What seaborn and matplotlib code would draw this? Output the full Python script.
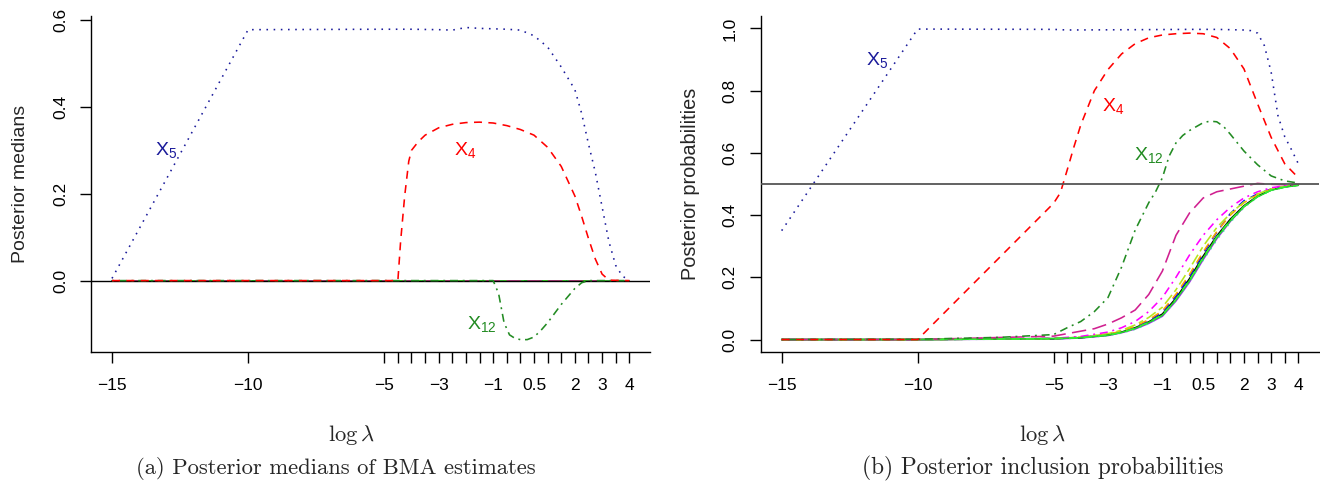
import numpy as np
import pandas as pd
import matplotlib
matplotlib.use("Agg")
import matplotlib.pyplot as plt
import seaborn as sns

# ---------------- data ----------------
# Panel (a): posterior medians
a_x5_x = [-15, -10, -5, -4, -3, -2.5, -2, -1.5, -1, -0.5, 0, 0.5, 1, 1.5, 2, 2.25, 2.5, 2.75, 3, 3.25, 3.5, 3.75, 4]
a_x5_y = [0.005, 0.578, 0.579, 0.579, 0.578, 0.577, 0.583, 0.581, 0.580, 0.579, 0.577, 0.564, 0.538, 0.492, 0.440, 0.385, 0.315, 0.250, 0.170, 0.090, 0.035, 0.010, 0.001]

a_x4_x = [-15, -5, -4.5, -4.4, -4.25, -4.1, -4, -3.75, -3.5, -3, -2.5, -2, -1.5, -1, -0.5, 0, 0.5, 1, 1.5, 2, 2.25, 2.5, 2.75, 3, 3.25, 4]
a_x4_y = [0, 0, 0, 0.090, 0.195, 0.275, 0.300, 0.320, 0.335, 0.352, 0.360, 0.364, 0.365, 0.363, 0.357, 0.348, 0.335, 0.307, 0.263, 0.195, 0.148, 0.097, 0.050, 0.015, 0.001, 0]

a_x12_x = [-15, -1.1, -1, -0.8, -0.6, -0.4, -0.2, 0, 0.25, 0.5, 0.75, 1, 1.5, 2, 2.25, 2.5, 4]
a_x12_y = [0, 0, 0, -0.030, -0.097, -0.125, -0.133, -0.136, -0.136, -0.130, -0.115, -0.097, -0.055, -0.018, -0.005, 0, 0]

# Panel (b): posterior inclusion probabilities
b_x5_x = [-15, -10, -5, -4.5, -2, 0, 1, 2, 2.25, 2.5, 2.75, 3, 3.25, 3.5, 3.75, 4]
b_x5_y = [0.350, 0.998, 0.997, 0.995, 0.996, 0.997, 0.997, 0.995, 0.993, 0.985, 0.945, 0.860, 0.720, 0.652, 0.610, 0.565]

b_x4_x = [-15, -10, -5, -4.75, -4.5, -4.25, -4, -3.75, -3.5, -3, -2.5, -2, -1.5, -1, -0.5, 0, 0.5, 1, 1.5, 2, 2.5, 3, 3.5, 4]
b_x4_y = [0, 0, 0.438, 0.472, 0.545, 0.620, 0.690, 0.745, 0.800, 0.868, 0.918, 0.951, 0.970, 0.979, 0.983, 0.985, 0.983, 0.971, 0.935, 0.870, 0.758, 0.650, 0.565, 0.520]

b_x12_x = [-15, -10, -7, -5, -4.5, -4, -3.5, -3, -2.5, -2, -1.5, -1.25, -1, -0.75, -0.5, -0.25, 0, 0.5, 0.75, 1, 1.25, 1.5, 2, 2.5, 3, 3.5, 4]
b_x12_y = [0, 0.001, 0.007, 0.016, 0.038, 0.058, 0.090, 0.135, 0.233, 0.352, 0.440, 0.475, 0.520, 0.590, 0.632, 0.656, 0.672, 0.697, 0.702, 0.700, 0.685, 0.660, 0.606, 0.562, 0.526, 0.510, 0.503]

b_vr_x = [-15, -10, -5, -3.5, -3, -2.5, -2, -1.5, -1, -0.5, 0, 0.5, 1, 2, 2.5, 3, 4]
b_vr_y = [0, 0, 0.011, 0.035, 0.050, 0.070, 0.095, 0.145, 0.220, 0.335, 0.407, 0.455, 0.475, 0.493, 0.502, 0.499, 0.496]

bundle_x = [-15, -10, -5, -4, -3, -2.5, -2, -1.5, -1, -0.5, 0, 0.5, 1, 1.5, 2, 2.5, 3, 3.5, 4]
b_green = [0, 0, 0.003, 0.006, 0.014, 0.023, 0.036, 0.055, 0.078, 0.128, 0.190, 0.262, 0.328, 0.382, 0.427, 0.459, 0.480, 0.490, 0.496]
b_black = [0, 0, 0.003, 0.006, 0.015, 0.024, 0.038, 0.057, 0.082, 0.133, 0.196, 0.268, 0.333, 0.387, 0.430, 0.461, 0.481, 0.491, 0.497]
b_purple = [0, 0, 0.002, 0.005, 0.013, 0.022, 0.034, 0.052, 0.075, 0.124, 0.185, 0.257, 0.324, 0.380, 0.427, 0.460, 0.481, 0.491, 0.496]
b_blue = [0, 0, 0.003, 0.007, 0.016, 0.026, 0.041, 0.061, 0.088, 0.140, 0.204, 0.277, 0.345, 0.405, 0.446, 0.468, 0.484, 0.492, 0.497]
b_orange = [0, 0, 0.003, 0.007, 0.017, 0.027, 0.043, 0.064, 0.092, 0.146, 0.210, 0.282, 0.347, 0.400, 0.440, 0.466, 0.483, 0.492, 0.497]
b_ygreen = [0, 0, 0.003, 0.008, 0.019, 0.030, 0.047, 0.071, 0.104, 0.160, 0.228, 0.300, 0.360, 0.405, 0.442, 0.468, 0.484, 0.492, 0.497]
b_magenta = [0, 0, 0.004, 0.010, 0.024, 0.038, 0.058, 0.090, 0.135, 0.200, 0.272, 0.335, 0.385, 0.425, 0.455, 0.475, 0.488, 0.494, 0.497]
b_spring = [0, 0, 0.002, 0.005, 0.013, 0.021, 0.033, 0.051, 0.076, 0.125, 0.186, 0.255, 0.320, 0.377, 0.424, 0.458, 0.479, 0.490, 0.495]
b_lime = [0, 0, 0.003, 0.006, 0.014, 0.023, 0.036, 0.056, 0.080, 0.130, 0.192, 0.264, 0.330, 0.384, 0.428, 0.460, 0.480, 0.490, 0.496]

xtick_pos = [-15, -10] + [-5 + 0.5 * i for i in range(19)]
xtick_lab_vals = {-15: "\u221215", -10: "\u221210", -5: "\u22125", -3: "\u22123", -1: "\u22121",
                  0.5: "0.5", 2: "2", 3: "3", 4: "4"}
a_yticks = [0.0, 0.2, 0.4, 0.6]
b_yticks = [0.0, 0.2, 0.4, 0.6, 0.8, 1.0]

# ---------------- style ----------------
sns.set_theme(style="ticks")
plt.rcParams['font.family'] = ['Liberation Sans', 'DejaVu Sans']
plt.rcParams['mathtext.fontset'] = 'custom'
plt.rcParams['mathtext.rm'] = 'Liberation Sans'
plt.rcParams['mathtext.it'] = 'Liberation Sans:italic'
plt.rcParams['axes.linewidth'] = 1.0

C_X5 = "#1a1a9a"
C_X4 = "#ff0000"
C_X12 = "#228B22"

DOT = (0, (1.0, 3.5))
DASH = (0, (5, 4))
DASHDOT = (0, (1.2, 3, 5, 3))
LONGDASH = (0, (9, 4))
TWODASH = (0, (3, 2.5, 7, 2.5))
LW = 1.15

bundle = [
    (b_purple, "#A020F0", "-"),
    (b_black, "#000000", "-"),
    (b_blue, "#0000ff", DASH),
    (b_orange, "#FFA500", DASH),
    (b_spring, "#3CE8A0", DOT),
    (b_ygreen, "#B5E61D", TWODASH),
    (b_magenta, "#FF00FF", DASHDOT),
    (b_green, "#22DD22", "-"),
]

W, H = 1320, 484
fig = plt.figure(figsize=(W / 100, H / 100), dpi=100)
axA = fig.add_axes([91.3 / W, (H - 352) / H, 558.7 / W, 336 / H])
axB = fig.add_axes([761.0 / W, (H - 352) / H, 558.0 / W, 336 / H])


def line(ax, xs, ys, color, ls, lw=LW, z=2):
    sns.lineplot(x=xs, y=ys, ax=ax, color=color, linestyle=ls, lw=lw,
                 legend=False, zorder=z, estimator=None)


# ---- panel (a) ----
for ys, col, ls in bundle:
    line(axA, bundle_x, [0.0] * len(bundle_x), col, ls)
line(axA, b_vr_x, [0.0] * len(b_vr_x), "#D02090", LONGDASH)
axA.axhline(0.0, color="black", lw=1.0, zorder=3)
line(axA, a_x12_x, a_x12_y, C_X12, DASHDOT, z=4)
line(axA, a_x4_x, a_x4_y, C_X4, DASH, z=4)
line(axA, a_x5_x, a_x5_y, C_X5, DOT, z=4)
axA.set_ylim(-0.1645, 0.6095)
axA.set_yticks(a_yticks)
axA.set_yticklabels(["0.0", "0.2", "0.4", "0.6"])
axA.set_ylabel("Posterior medians", fontsize=14)
axA.yaxis.set_label_coords(-0.112, 0.5)
axA.text(-13.0, 0.301, r"$\mathrm{X}_{5}$", color=C_X5, fontsize=14, ha="center", va="center")
axA.text(-2.03, 0.301, r"$\mathrm{X}_{4}$", color=C_X4, fontsize=14, ha="center", va="center")
axA.text(-1.40, -0.0997, r"$\mathrm{X}_{12}$", color=C_X12, fontsize=14, ha="center", va="center")

# ---- panel (b) ----
for ys, col, ls in bundle:
    line(axB, bundle_x, ys, col, ls)
line(axB, b_vr_x, b_vr_y, "#D02090", LONGDASH, z=3)
line(axB, bundle_x, b_lime, "#33EE33", DASH, z=3)
line(axB, b_x12_x, b_x12_y, C_X12, DASHDOT, z=4)
line(axB, b_x4_x, b_x4_y, C_X4, DASH, z=4)
line(axB, b_x5_x, b_x5_y, C_X5, DOT, z=4)
axB.axhline(0.5, color="#555555", lw=1.3, zorder=5)
axB.set_ylim(-0.04, 1.04)
axB.set_yticks(b_yticks)
axB.set_yticklabels(["0.0", "0.2", "0.4", "0.6", "0.8", "1.0"])
axB.set_ylabel("Posterior probabilities", fontsize=14.3)
axB.yaxis.set_label_coords(-0.110, 0.5)
axB.text(-11.5, 0.90, r"$\mathrm{X}_{5}$", color=C_X5, fontsize=14, ha="center", va="center")
axB.text(-2.82, 0.752, r"$\mathrm{X}_{4}$", color=C_X4, fontsize=14, ha="center", va="center")
axB.text(-1.48, 0.592, r"$\mathrm{X}_{12}$", color=C_X12, fontsize=14, ha="center", va="center")

for ax in (axA, axB):
    ax.set_xlim(-15.76, 4.76)
    ax.set_xticks(xtick_pos)
    ax.set_xticklabels([xtick_lab_vals.get(v, "") for v in xtick_pos])
    ax.set_xlabel("")
    ax.tick_params(axis="x", length=8, width=1.0, pad=11, labelsize=12.5, colors="black")
    ax.tick_params(axis="y", length=7.7, width=1.0, pad=9, labelsize=12.5, labelrotation=90, colors="black")
    for lab in ax.get_yticklabels():
        lab.set_va("center")
    ax.spines["top"].set_visible(False)
    ax.spines["right"].set_visible(False)
    ax.spines["left"].set_color("black")
    ax.spines["bottom"].set_color("black")
    ax.set_facecolor("white")

fig.text(351 / W, 1 - 435 / H, r"$\log\lambda$", math_fontfamily="cm", fontsize=16.3, ha="center", va="center")
fig.text(1042 / W, 1 - 435 / H, r"$\log\lambda$", math_fontfamily="cm", fontsize=16.3, ha="center", va="center")
fig.text(335.5 / W, 1 - 468 / H, "(a) Posterior medians of BMA estimates", family="cmr10", fontsize=16.3, ha="center", va="center")
fig.text(1043 / W, 1 - 468 / H, "(b) Posterior inclusion probabilities", family="cmr10", fontsize=16.8, ha="center", va="center")

fig.savefig("out.png", dpi=100, facecolor="white")
